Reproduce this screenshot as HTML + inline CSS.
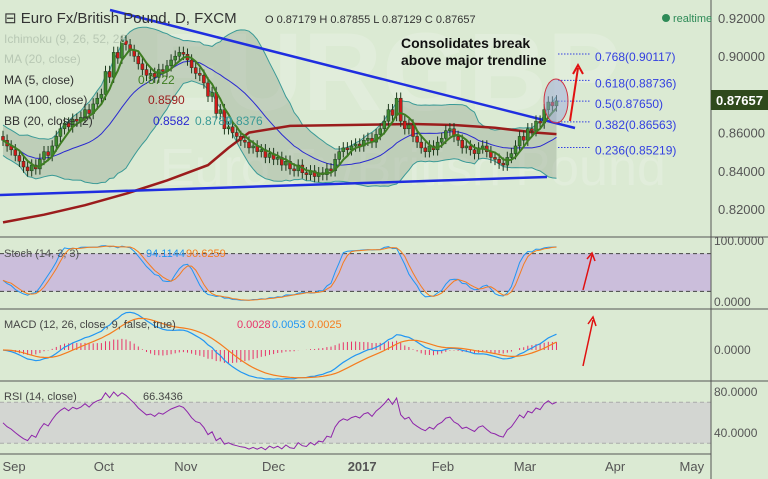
<!DOCTYPE html>
<html><head><meta charset="utf-8"><style>
html,body{margin:0;padding:0;background:#dbead3;}
svg{display:block;font-family:"Liberation Sans",sans-serif;}
</style></head><body>
<svg id="chart" width="768" height="479" viewBox="0 0 768 479">
<rect x="0" y="0" width="768" height="479" fill="#dbead3"/>
<text x="150" y="110" font-size="110" fill="#ffffff" fill-opacity="0.18" font-weight="bold">EURGBP</text>
<text x="160" y="185" font-size="52" fill="#ffffff" fill-opacity="0.18">Euro Fx/British Pound</text>
<g id="g-main"></g>
<g id="g-stoch"></g>
<g id="g-macd"></g>
<g id="g-rsi"></g>
<g id="g-axes"></g>
<g id="g-text"></g>
</svg>
<script>
const closes=[.856,.853,.851,.848,.845,.842,.840,.843,.841,.846,.850,.848,.853,.858,.862,.865,.863,.867,.866,.868,.872,.870,.875,.878,.880,.892,.889,.902,.899,.908,.906,.903,.900,.896,.893,.890,.891,.889,.893,.892,.895,.898,.900,.902,.901,.898,.894,.891,.890,.886,.879,.881,.870,.872,.862,.863,.860,.858,.856,.855,.852,.853,.850,.851,.847,.849,.846,.847,.843,.845,.841,.840,.843,.839,.838,.840,.837,.839,.838,.841,.840,.846,.850,.852,.851,.853,.854,.853,.856,.857,.855,.859,.862,.866,.872,.869,.878,.866,.862,.864,.858,.855,.852,.850,.853,.851,.855,.857,.861,.862,.858,.856,.852,.853,.851,.849,.852,.853,.850,.847,.846,.844,.843,.847,.849,.853,.858,.856,.862,.861,.866,.865,.872,.876,.874,.8766];
const ma100Idx=[0,10,20,30,40,50,55,60,70,80,90,100,110,120,130,135];
const ma100Vals=[.813,.817,.822,.828,.835,.843,.852,.860,.8635,.8638,.8642,.8645,.864,.8625,.860,.8592];
const monthLabels=["Sep","Oct","Nov","Dec","2017","Feb","Mar","Apr","May"];
const monthIdx=[2.7,24.6,44.6,66,87.6,107.3,127.3,149.3,168];
const priceTicks=[0.92,0.90,0.86,0.84,0.82];
const fibLevels=[0.768,0.618,0.5,0.382,0.236];
const fibPrices=[0.90117,0.88736,0.87650,0.86563,0.85219];

const NS="http://www.w3.org/2000/svg";
function mk(parent,tag,attrs,name,inter){const e=document.createElementNS(NS,tag);for(const k in attrs)e.setAttribute(k,attrs[k]);


parent.appendChild(e);return e;}
const X=i=>3+i*4.1;
const Y=p=>18+(0.92-p)/0.02*38.2;
const gm=document.getElementById('g-main');
const n=closes.length;
const opens=closes.map((c,i)=>i?closes[i-1]:c+0.002);
const highs=closes.map((c,i)=>Math.max(c,opens[i])+0.003);
const lows=closes.map((c,i)=>Math.min(c,opens[i])-0.003);
function sma(arr,p){return arr.map((v,i)=>{const s=arr.slice(Math.max(0,i-p+1),i+1);return s.reduce((a,b)=>a+b,0)/s.length;});}
const ma20=sma(closes,20),ma5=sma(closes,5);
const sd=closes.map((v,i)=>{const s=closes.slice(Math.max(0,i-19),i+1);const m=ma20[i];return Math.sqrt(s.reduce((a,b)=>a+(b-m)*(b-m),0)/s.length)||0.004;});
const up=ma20.map((m,i)=>m+2*Math.max(sd[i],0.004)),lo=ma20.map((m,i)=>m-2*Math.max(sd[i],0.004));
function pts(arr,fy){return arr.map((v,i)=>X(i).toFixed(1)+","+fy(v).toFixed(1)).join(" ");}
const poly=up.map((v,i)=>X(i).toFixed(1)+","+Y(v).toFixed(1)).concat(lo.map((v,i)=>X(i).toFixed(1)+","+Y(v).toFixed(1)).reverse()).join(" ");
mk(gm,'polygon',{points:poly,fill:'#8a9a88','fill-opacity':0.35},'bb-fill',false);
mk(gm,'polyline',{points:pts(up,Y),fill:'none',stroke:'#3a9a96','stroke-width':1},'bb-upper',false);
mk(gm,'polyline',{points:pts(lo,Y),fill:'none',stroke:'#3a9a96','stroke-width':1},'bb-lower',false);
mk(gm,'polyline',{points:pts(ma20,Y),fill:'none',stroke:'#2a2ad0','stroke-width':1},'ma20-line',false);
mk(gm,'polyline',{points:ma100Idx.map((ix,k)=>X(ix).toFixed(1)+","+Y(ma100Vals[k]).toFixed(1)).join(" "),fill:'none',stroke:'#9b1c1c','stroke-width':2.5},'ma100-line',false);
mk(gm,'line',{x1:110,y1:10,x2:575,y2:128,stroke:'#1f2ee0','stroke-width':2.5},'upper-trendline',true);
mk(gm,'line',{x1:0,y1:195,x2:547,y2:177,stroke:'#1f2ee0','stroke-width':2.5},'lower-trendline',true);
for(let i=0;i<n;i++){const upc=closes[i]>=opens[i];const x=X(i);
mk(gm,'line',{x1:x,y1:Y(highs[i]),x2:x,y2:Y(lows[i]),stroke:'#1e3a1e','stroke-width':1},'candle-wick',false);
const t=Y(Math.max(opens[i],closes[i])),b=Y(Math.min(opens[i],closes[i]));
mk(gm,'rect',{x:x-1.5,y:t,width:3,height:Math.max(1,b-t),fill:upc?'#3d8a2e':'#d01a1a',stroke:'#1e3a1e','stroke-width':0.5},'candle',false);}
mk(gm,'polyline',{points:pts(ma5,Y),fill:'none',stroke:'#3e7d22','stroke-width':2},'ma5-line',false);
fibPrices.forEach((p,k)=>{mk(gm,'line',{x1:558,y1:Y(p),x2:590,y2:Y(p),stroke:'#3340e0','stroke-width':1,'stroke-dasharray':'1.5,1.5'},'fib-line',false);
const t=mk(gm,'text',{x:595,y:Y(p)+7,'font-size':12,fill:'#3340e0'},'fib-label',false);t.textContent=fibLevels[k]+"("+p.toFixed(5)+")";});
mk(gm,'ellipse',{cx:556,cy:101,rx:12,ry:22,fill:'#9aa8d8','fill-opacity':0.5,stroke:'#d03040','stroke-width':1},'breakout-circle',false);
mk(gm,'line',{x1:570,y1:121,x2:578,y2:68,stroke:'#e01010','stroke-width':2},'up-arrow',false);
mk(gm,'polyline',{points:'573,74 578,65 583,74',fill:'none',stroke:'#e01010','stroke-width':2},'up-arrow-head',false);

const gs=document.getElementById('g-stoch');
const YS=v=>304-v*0.63;
mk(gs,'rect',{x:0,y:YS(80),width:711,height:YS(20)-YS(80),fill:'#cbbedb'},'stoch-band',false);
[80,20].forEach(v=>mk(gs,'line',{x1:0,y1:YS(v),x2:711,y2:YS(v),stroke:'#444','stroke-dasharray':'4,3'},'stoch-level',false));
const k=closes.map((c,i)=>{const lw=Math.min(...lows.slice(Math.max(0,i-13),i+1)),hh=Math.max(...highs.slice(Math.max(0,i-13),i+1));return 100*(c-lw)/(hh-lw);});
const ks=sma(k,3),ds=sma(ks,3);
mk(gs,'polyline',{points:pts(ks,YS),fill:'none',stroke:'#2196f3','stroke-width':1},'stoch-k-line',false);
mk(gs,'polyline',{points:pts(ds,YS),fill:'none',stroke:'#f57c1e','stroke-width':1},'stoch-d-line',false);
mk(gs,'line',{x1:583,y1:290,x2:592,y2:255,stroke:'#e01010','stroke-width':1.5},'stoch-arrow',false);
mk(gs,'polyline',{points:'587,259 592,253 595,261',fill:'none',stroke:'#e01010','stroke-width':1.5},'stoch-arrow-head',false);

const gc=document.getElementById('g-macd');
const YM=v=>350-v*2900;
function ema(arr,p){const a=2/(p+1);let e=arr[0];return arr.map(v=>e=e+a*(v-e));}
const e12=ema(closes,12),e26=ema(closes,26);
const macd=e12.map((v,i)=>v-e26[i]);const sig=ema(macd,9);
macd.forEach((m,i)=>{const h=m-sig[i];mk(gc,'line',{x1:X(i),y1:YM(0),x2:X(i),y2:YM(h),stroke:'#e8336a','stroke-width':1},'macd-histogram-bar',false);});
mk(gc,'polyline',{points:pts(macd,YM),fill:'none',stroke:'#2196f3','stroke-width':1.2},'macd-line',false);
mk(gc,'polyline',{points:pts(sig,YM),fill:'none',stroke:'#f57c1e','stroke-width':1.2},'macd-signal-line',false);
mk(gc,'line',{x1:583,y1:366,x2:593,y2:320,stroke:'#e01010','stroke-width':1.5},'macd-arrow',false);
mk(gc,'polyline',{points:'588,324 593,317 596,326',fill:'none',stroke:'#e01010','stroke-width':1.5},'macd-arrow-head',false);

const gr=document.getElementById('g-rsi');
const YR=v=>392+(80-v)*1.025;
mk(gr,'rect',{x:0,y:YR(70),width:711,height:YR(30)-YR(70),fill:'#d3d6d2'},'rsi-band',false);
[70,30].forEach(v=>mk(gr,'line',{x1:0,y1:YR(v),x2:711,y2:YR(v),stroke:'#aaa','stroke-dasharray':'4,3'},'rsi-level',false));
let ag=0.0015,al=0.0015;const rsi=closes.map((c,i)=>{const d=i?c-closes[i-1]:0;ag=(ag*13+Math.max(d,0))/14;al=(al*13+Math.max(-d,0))/14;return 100-100/(1+ag/al);});
mk(gr,'polyline',{points:pts(rsi,YR),fill:'none',stroke:'#8e24aa','stroke-width':1},'rsi-line',false);

const ga=document.getElementById('g-axes');
[237,309,381].forEach(y=>mk(ga,'line',{x1:0,y1:y,x2:768,y2:y,stroke:'#555','stroke-width':1},'pane-separator',false));
mk(ga,'line',{x1:0,y1:454,x2:711,y2:454,stroke:'#555','stroke-width':1},'time-axis-line',false);
mk(ga,'line',{x1:711,y1:0,x2:711,y2:479,stroke:'#555','stroke-width':1},'price-axis-line',false);
priceTicks.forEach(p=>{const t=mk(ga,'text',{x:718,y:Y(p)+5,'font-size':13,fill:'#555'},'price-tick-label',false);t.textContent=p.toFixed(5);});
mk(ga,'rect',{x:711,y:90,width:57,height:20,fill:'#2f4a1c'},'last-price-badge',false);
let t=mk(ga,'text',{x:716,y:105,'font-size':13,'font-weight':'bold',fill:'#fff'},'last-price-label',false);t.textContent="0.87657";
[["100.0000",245],["0.0000",306],["0.0000",354],["80.0000",396],["40.0000",437]].forEach(a=>{const e=mk(ga,'text',{x:714,y:a[1],'font-size':12,fill:'#555'},'indicator-tick-label',false);e.textContent=a[0];});
monthLabels.forEach((m,k)=>{const e=mk(ga,'text',{x:X(monthIdx[k]),y:471,'font-size':13,fill:'#555','text-anchor':'middle','font-weight':m==="2017"?'bold':'normal'},'time-tick-label',false);e.textContent=m;});

const gt=document.getElementById('g-text');
function txt(x,y,s,fill,size,name,extra){const e=mk(gt,'text',Object.assign({x:x,y:y,'font-size':size||12,fill:fill},extra||{}),name,false);e.textContent=s;return e;}
txt(4,23,"⊟ Euro Fx/British Pound, D, FXCM","#333",15,'chart-title');
txt(265,23,"O 0.87179 H 0.87855 L 0.87129 C 0.87657","#333",11,'ohlc-values');
mk(gt,'circle',{cx:666,cy:18,r:4,fill:'#2e8b57'},'realtime-dot',false);
txt(673,22,"realtime","#2e8b57",11,'realtime-label');
txt(4,43,"Ichimoku (9, 26, 52, 26)","#b8c8b4",12,'ichimoku-legend');
txt(4,63,"MA (20, close)","#b8c8b4",12,'ma20-legend');
txt(4,84,"MA (5, close)","#333",12,'ma5-legend');
txt(138,84,"0.8722","#3e7d22",12,'ma5-value');
txt(4,104,"MA (100, close)","#333",12,'ma100-legend');
txt(148,104,"0.8590","#9b1c1c",12,'ma100-value');
txt(4,125,"BB (20, close, 2)","#333",12,'bb-legend');
txt(153,125,"0.8582","#2a2ad0",12,'bb-basis-value');
txt(195,125,"0.8789","#3a9a96",12,'bb-upper-value');
txt(226,125,"0.8376","#3a9a96",12,'bb-lower-value');
txt(401,48,"Consolidates break","#111",14,'annotation-line-1',{'font-weight':'bold'});
txt(401,65,"above major trendline","#111",14,'annotation-line-2',{'font-weight':'bold'});
txt(4,257,"Stoch (14, 3, 3)","#555",11,'stoch-legend');
txt(146,257,"94.1144","#2196f3",11,'stoch-k-value');
txt(186,257,"90.6259","#f57c1e",11,'stoch-d-value');
txt(4,328,"MACD (12, 26, close, 9, false, true)","#444",11,'macd-legend');
txt(237,328,"0.0028","#e8336a",11,'macd-hist-value');
txt(272,328,"0.0053","#2196f3",11,'macd-value');
txt(308,328,"0.0025","#f57c1e",11,'macd-signal-value');
txt(4,400,"RSI (14, close)","#444",11,'rsi-legend');
txt(143,400,"66.3436","#444",11,'rsi-value');
</script>
</body></html>
